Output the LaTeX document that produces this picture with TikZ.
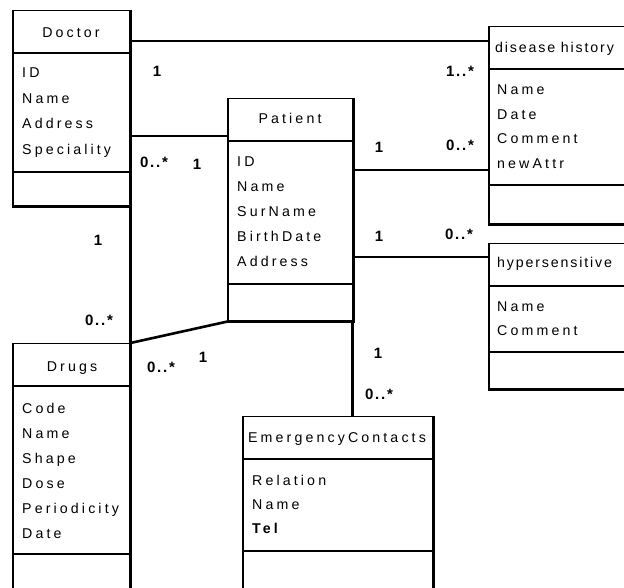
\documentclass[tikz,border=0pt]{standalone}
\usepackage{fontspec}
\setmainfont{Liberation Sans}
\newfontfamily\umlfont[LetterSpace=22]{Liberation Sans}
\newfontfamily\umlnarrow[LetterSpace=13]{Liberation Sans}
\newfontfamily\multfont[LetterSpace=12]{Liberation Sans}
\usetikzlibrary{calc}
\begin{document}
\begin{tikzpicture}[x=1pt,y=-1pt,
  classbox/.style={draw, line width=1.4pt, anchor=north west, inner sep=0pt},
  edge/.style={line width=2.6pt},
  sep/.style={line width=1.3pt},
  conn/.style={line width=2.6pt},
  txt/.style={font=\umlfont\fontsize{14.2}{16}\selectfont, inner sep=0pt},
  attr/.style={txt, anchor=base west},
  head/.style={txt, anchor=base},
  narrowhead/.style={attr, font=\umlnarrow\fontsize{14.2}{16}\selectfont},
  mult/.style={font=\multfont\bfseries\fontsize{15}{17}\selectfont, inner sep=0pt, anchor=base}]
\useasboundingbox (0,0) rectangle (624,588);
\clip (0,0) rectangle (624,588);

% class boxes
\node[classbox, minimum width=116pt, minimum height=195pt] (doc) at (13,10) {};
\node[classbox, minimum width=152pt, minimum height=197pt] (dh) at (489,26) {};
\node[classbox, minimum width=124pt, minimum height=222pt] (pat) at (228,98) {};
\node[classbox, minimum width=152pt, minimum height=145pt] (hyp) at (489,243) {};
\node[classbox, minimum width=116pt, minimum height=260pt] (drg) at (13,343) {};
\node[classbox, minimum width=189pt, minimum height=190pt] (emc) at (243,416) {};

% heavier sides
\foreach \b in {doc,dh,pat,hyp,drg,emc}
  \draw[edge] (\b.north west) -- (\b.south west) -- (\b.south east) -- (\b.north east);

% compartment separators (offsets from each box top)
\foreach \b/\h/\a in {doc/43/162, dh/43/159, pat/43/186, hyp/43/109, drg/43/211, emc/43/135} {
  \draw[sep] ([yshift=-\h pt]\b.north west) -- ([yshift=-\h pt]\b.north east);
  \draw[sep] ([yshift=-\a pt]\b.north west) -- ([yshift=-\a pt]\b.north east);
}

% Doctor
\node[head] (docT) at (71,38) {Doctor};
\node[attr] (doc1) at (22,78) {ID};
\node[attr] (doc2) at (22,104) {Name};
\node[attr] (doc3) at (22,129) {Address};
\node[attr] (doc4) at (22,155) {Speciality};

% disease history
\node[narrowhead] (dhT) at (495,53) {disease history};
\node[attr] (dh1) at (497,95) {Name};
\node[attr] (dh2) at (497,120) {Date};
\node[attr] (dh3) at (497,144) {Comment};
\node[attr] (dh4) at (497,169) {newAttr};

% Patient
\node[head] (patT) at (290,124) {Patient};
\node[attr] (pat1) at (237,167) {ID};
\node[attr] (pat2) at (237,192) {Name};
\node[attr] (pat3) at (237,217) {SurName};
\node[attr] (pat4) at (237,242) {BirthDate};
\node[attr] (pat5) at (237,267) {Address};

% hypersensitive
\node[narrowhead] (hypT) at (497,268) {hypersensitive};
\node[attr] (hyp1) at (497,311) {Name};
\node[attr] (hyp2) at (497,335) {Comment};

% Drugs
\node[head] (drgT) at (72,371) {Drugs};
\node[attr] (drg1) at (22,413) {Code};
\node[attr] (drg2) at (22,438) {Name};
\node[attr] (drg3) at (22,463) {Shape};
\node[attr] (drg4) at (22,488) {Dose};
\node[attr] (drg5) at (22,513) {Periodicity};
\node[attr] (drg6) at (22,538) {Date};

% EmergencyContacts
\node[head] (emcT) at (337,442) {EmergencyContacts};
\node[attr] (emc1) at (252,485) {Relation};
\node[attr] (emc2) at (252,509) {Name};
\node[attr, font=\umlfont\bfseries\fontsize{14.2}{16}\selectfont] (emc3) at (252,533) {Tel};

% associations
\coordinate (a1) at ([yshift=-31pt]doc.north east);
\draw[conn] (a1) -- (a1 -| dh.west);
\coordinate (a2) at ([yshift=-126pt]doc.north east);
\draw[conn] (a2) -- (a2 -| pat.west);
\coordinate (a3) at ([yshift=-72pt]pat.north east);
\draw[conn] (a3) -- (a3 -| dh.west);
\coordinate (a4) at ([yshift=-159pt]pat.north east);
\draw[conn] (a4) -- (a4 -| hyp.west);
\draw[conn] (doc.south east) -- (drg.north east);
\draw[conn] (drg.north east) -- (pat.south west);
\coordinate (a5) at ([xshift=-1pt]pat.south east);
\draw[conn] (a5) -- (a5 |- emc.north);

% multiplicities
\node[mult] (m1) at (157,77) {1};
\node[mult] (m2) at (460,77) {1..*};
\node[mult] (m3) at (154,168) {0..*};
\node[mult] (m4) at (197,170) {1};
\node[mult] (m5) at (379,153) {1};
\node[mult] (m6) at (460,151) {0..*};
\node[mult] (m7) at (379,242) {1};
\node[mult] (m8) at (459,240) {0..*};
\node[mult] (m9) at (98,246) {1};
\node[mult] (m10) at (99,325) {0..*};
\node[mult] (m11) at (161,372) {0..*};
\node[mult] (m12) at (203,362) {1};
\node[mult] (m13) at (378,358) {1};
\node[mult] (m14) at (379,399) {0..*};
\end{tikzpicture}
\end{document}
